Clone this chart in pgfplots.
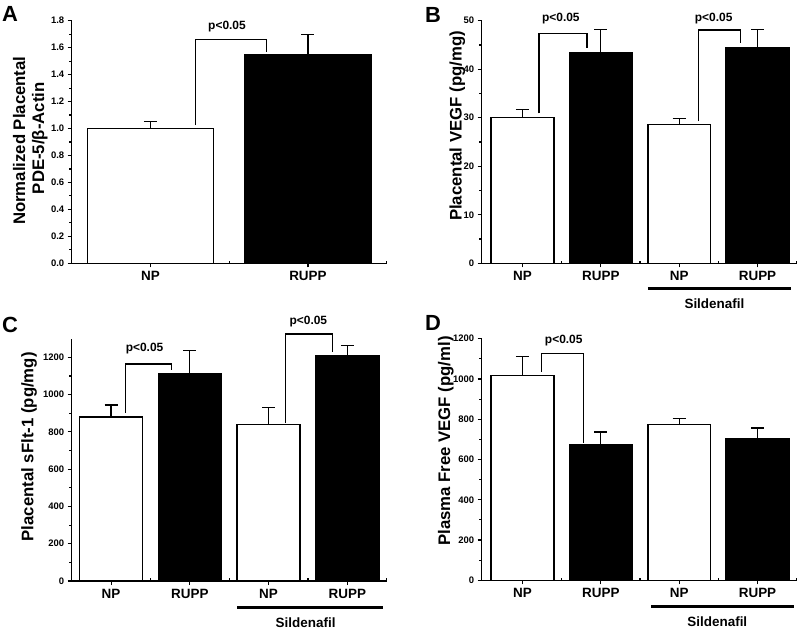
\documentclass[border=0pt]{standalone}
\usepackage{pgfplots}
\pgfplotsset{compat=1.18}
\usepackage{fontspec}
\setmainfont{Liberation Sans}

\pgfplotsset{
  panel/.style={
    scale only axis,
    axis lines*=left,
    axis line style={line width=1.1bp, -},
    enlargelimits=false,
    clip=false,
    ybar, bar shift=0pt, bar width=0.8,
    tick align=outside,
    major tick length=4bp,
    minor tick length=2.5bp,
    every tick/.style={black, line width=1.1bp},
    minor y tick num=1,
    minor x tick style={yshift=2.5bp},
    /pgf/number format/assume math mode=true,
    /pgf/number format/1000 sep={},
    yticklabel style={font=\bfseries\fontsize{9.5}{10}\selectfont},
    xticklabel style={font=\bfseries\fontsize{13.5}{14}\selectfont, anchor=base, yshift=-13.5bp},
    ymin=0,
  },
  wbar/.style={fill=white, draw=black, line width=1.5bp,
    error bars/.cd, y dir=plus, y explicit,
    error bar style={line width=1.3bp, black},
    error mark options={rotate=90, black, line width=1.3bp, mark size=6.5bp}},
  bbar/.style={fill=black, draw=black, line width=1.5bp,
    error bars/.cd, y dir=plus, y explicit,
    error bar style={line width=1.3bp, black},
    error mark options={rotate=90, black, line width=1.3bp, mark size=6.5bp}},
}
\tikzset{brk/.style={line width=1.2bp, black}}
\newcommand{\pfont}{\bfseries\fontsize{12}{12}\selectfont}
\newcommand{\lfont}{\bfseries\fontsize{16.8}{17}\selectfont}
\newcommand{\sfont}{\bfseries\fontsize{13.5}{14}\selectfont}

\begin{document}
\begin{tikzpicture}
\useasboundingbox (0,0) rectangle (798bp,632bp);

% ---------------- Panel A ----------------
\begin{axis}[panel, at={(71.7bp,368.7bp)}, anchor=south west,
  width=315bp, height=242.6bp,
  xmin=-0.5, xmax=1.5, ymax=1.8,
  ytick={0,0.2,...,1.8},
  yticklabel style={/pgf/number format/.cd, fixed, fixed zerofill, precision=1},
  xtick={0,1}, xticklabels={NP,RUPP},
  minor xtick={0.5,1.5}]
\addplot[wbar] coordinates {(0,1.00) +- (0,0.05)};
\addplot[bbar] coordinates {(1,1.55) +- (0,0.15)};
\draw[brk] (axis cs:0.287,1.026) |- (axis cs:0.739,1.662) -- (axis cs:0.739,1.570);
\node[anchor=base, font=\pfont] at (axis cs:0.486,1.738) {p<0.05};
\end{axis}

% ---------------- Panel B ----------------
\begin{axis}[panel, at={(481.7bp,368.7bp)}, anchor=south west,
  width=315bp, height=242.6bp,
  xmin=-0.52, xmax=3.5, ymax=50,
  ytick={0,10,...,50},
  xtick={0,1,2,3}, xticklabels={NP,RUPP,NP,RUPP},
  minor xtick={0.5,1.5,2.5,3.5}]
\addplot[wbar] coordinates {(0,30.0) +- (0,1.7) (2,28.6) +- (0,1.2)};
\addplot[bbar] coordinates {(1,43.4) +- (0,4.8) (3,44.4) +- (0,3.8)};
\draw[brk] (axis cs:0.21,30.9) |- (axis cs:0.823,47.4) -- (axis cs:0.823,44.3);
\draw[brk] (axis cs:2.251,29.3) |- (axis cs:2.78,48.1) -- (axis cs:2.78,45.3);
\node[anchor=base, font=\pfont] at (axis cs:0.49,49.8) {p<0.05};
\node[anchor=base, font=\pfont] at (axis cs:2.44,49.8) {p<0.05};
\draw[line width=3bp] (axis cs:1.6,-5.15) -- (axis cs:3.43,-5.15);
\node[anchor=base, font=\sfont] at (axis cs:2.45,-9.27) {Sildenafil};
\end{axis}

% ---------------- Panel C ----------------
\begin{axis}[panel, at={(71.7bp,51bp)}, anchor=south west,
  width=315bp, height=242.3bp,
  xmin=-0.5, xmax=3.5, ymax=1300,
  ytick={0,200,...,1200},
  xtick={0,1,2,3}, xticklabels={NP,RUPP,NP,RUPP},
  minor xtick={0.5,1.5,2.5,3.5}]
\addplot[wbar] coordinates {(0,880) +- (0,65) (2,840) +- (0,90)};
\addplot[bbar] coordinates {(1,1112) +- (0,125) (3,1210) +- (0,52)};
\draw[brk] (axis cs:0.183,903) |- (axis cs:0.766,1164) -- (axis cs:0.766,1131.6);
\draw[brk] (axis cs:2.213,850) |- (axis cs:2.81,1325.6) -- (axis cs:2.81,1230);
\node[anchor=base, font=\pfont] at (axis cs:0.425,1230) {p<0.05};
\node[anchor=base, font=\pfont] at (axis cs:2.505,1374) {p<0.05};
\draw[line width=3bp] (axis cs:1.604,-143.9) -- (axis cs:3.448,-143.9);
\node[anchor=base, font=\sfont] at (axis cs:2.47,-251.6) {Sildenafil};
\end{axis}

% ---------------- Panel D ----------------
\begin{axis}[panel, at={(481.7bp,51.7bp)}, anchor=south west,
  width=315bp, height=241.6bp,
  xmin=-0.52, xmax=3.5, ymax=1200,
  ytick={0,200,...,1200},
  xtick={0,1,2,3}, xticklabels={NP,RUPP,NP,RUPP},
  minor xtick={0.5,1.5,2.5,3.5}]
\addplot[wbar] coordinates {(0,1017) +- (0,95) (2,775) +- (0,28)};
\addplot[bbar] coordinates {(1,672) +- (0,64) (3,705) +- (0,51)};
\draw[brk] (axis cs:0.241,1034.6) |- (axis cs:0.78,1125.5) -- (axis cs:0.78,683);
\node[anchor=base, font=\pfont] at (axis cs:0.527,1177) {p<0.05};
\draw[line width=3bp] (axis cs:1.644,-132.6) -- (axis cs:3.47,-132.6);
\node[anchor=base, font=\sfont] at (axis cs:2.487,-227) {Sildenafil};
\end{axis}

% ---------------- labels ----------------
\node[rotate=90, anchor=base, font=\lfont] at (25bp,491.3bp) {Normalized Placental};
\node[rotate=90, anchor=base, font=\lfont] at (44bp,493.7bp) {PDE-5/β-Actin};
\node[rotate=90, anchor=base, font=\lfont] at (461.7bp,506bp) {Placental VEGF (pg/mg)};
\node[rotate=90, anchor=base, font=\lfont] at (33.3bp,185.2bp) {Placental sFlt-1 (pg/mg)};
\node[rotate=90, anchor=base, font=\lfont] at (450bp,191bp) {Plasma Free VEGF (pg/ml)};

\node[inner sep=0, font=\bfseries\fontsize{22}{22}\selectfont] at (10bp,618bp) {A};
\node[inner sep=0, font=\bfseries\fontsize{22}{22}\selectfont] at (433bp,617bp) {B};
\node[inner sep=0, font=\bfseries\fontsize{22}{22}\selectfont] at (10bp,307bp) {C};
\node[inner sep=0, font=\bfseries\fontsize{22}{22}\selectfont] at (433bp,309bp) {D};
\end{tikzpicture}
\end{document}
